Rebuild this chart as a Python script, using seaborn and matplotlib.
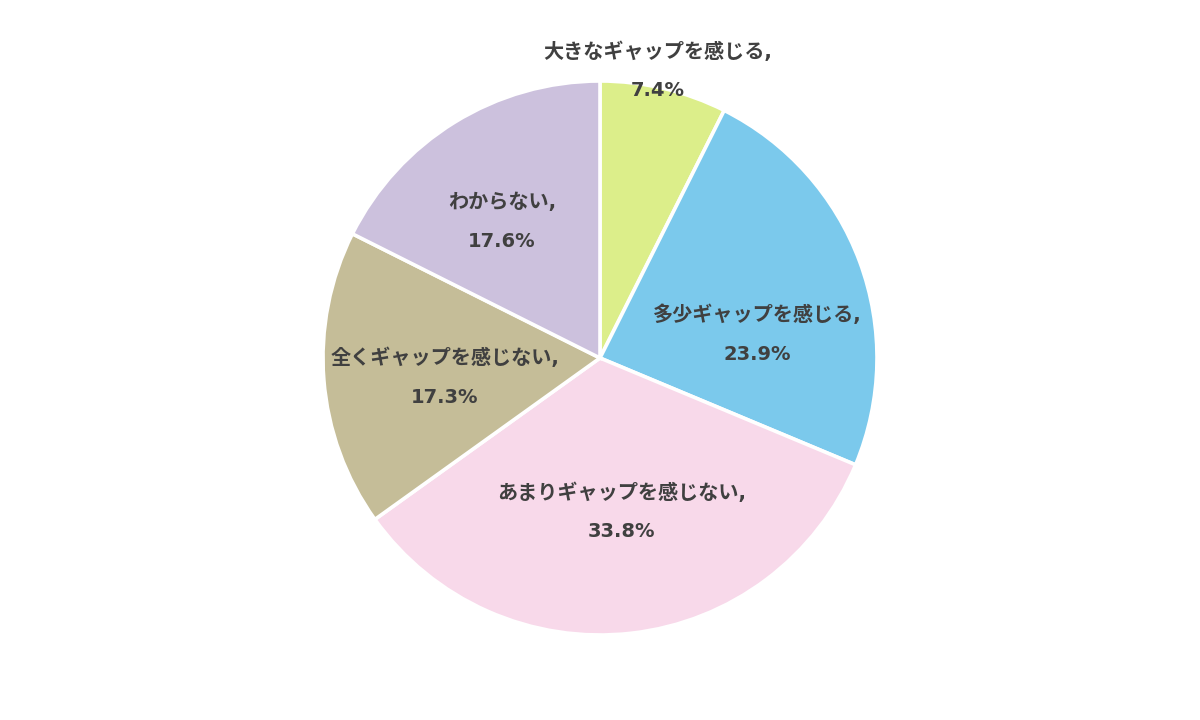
import matplotlib
matplotlib.use("Agg")
import matplotlib.pyplot as plt
import seaborn as sns

categories = ["大きなギャップを感じる", "多少ギャップを感じる", "あまりギャップを感じない",
              "全くギャップを感じない", "わからない"]
values = [7.4, 23.9, 33.8, 17.3, 17.6]
colors = ["#DCEE8A", "#7BC9EC", "#F8D9EA", "#C5BD98", "#CCC1DD"]

# label anchor positions (pie radius = 1, centre at 0,0): name line, pct line below
label_pos = [(0.209, 1.105), (0.567, 0.155), (0.079, -0.487), (-0.560, 0.0), (-0.354, 0.563)]
line_gap = 0.141

sns.set_theme(style="white")
plt.rcParams['font.family'] = ['DejaVu Sans', 'Noto Sans CJK JP']

fig = plt.figure(figsize=(12, 7.2), dpi=100)
ax = fig.add_axes([0, 0, 1, 1])
ax.pie(values, colors=colors, startangle=90, counterclock=False, radius=1.0,
       wedgeprops=dict(edgecolor="white", linewidth=2.6))
R_px = 277.0
ax.set_xlim(-600 / R_px, 600 / R_px)
ax.set_ylim(-362 / R_px, 358 / R_px)
ax.set_aspect("equal")
ax.axis("off")

txt_color = "#404040"
for cat, v, (x, y) in zip(categories, values, label_pos):
    ax.text(x, y, f"{cat},", ha="center", va="center", fontsize=14.5,
            fontweight="bold", color=txt_color)
    ax.text(x, y - line_gap, f"{v:.1f}%", ha="center", va="center", fontsize=14,
            fontweight="bold", color=txt_color)

fig.savefig("out.png", dpi=100, facecolor="white")
